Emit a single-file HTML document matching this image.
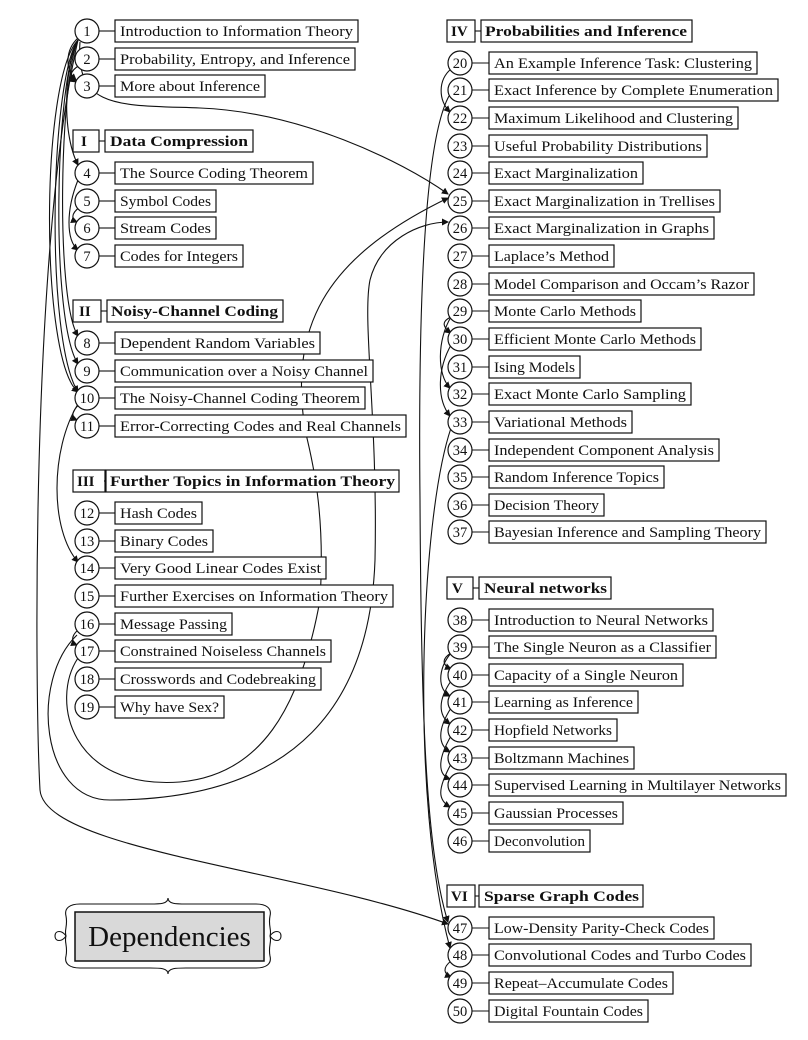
<!DOCTYPE html>
<html><head><meta charset="utf-8"><style>
body{margin:0;background:#fff;}
svg{display:block;}
text{font-family:"Liberation Serif",serif;font-size:15px;fill:#111;}
.b{font-weight:bold;}
.n{font-size:14.5px;text-anchor:middle;}
rect{fill:#fff;stroke:#111;stroke-width:1.2;}
circle{fill:#fff;stroke:#111;stroke-width:1.2;}
.c{fill:none;stroke:#111;stroke-width:1.1;}
line{stroke:#111;stroke-width:1.1;}
</style></head><body>
<svg width="808" height="1040" viewBox="0 0 808 1040" xmlns="http://www.w3.org/2000/svg">
<defs><marker id="a" markerWidth="7" markerHeight="7" refX="6" refY="3.5" orient="auto" markerUnits="userSpaceOnUse"><path d="M0,0 L7,3.5 L0,7 z" fill="#111"/></marker></defs>
<g class="c" marker-end="url(#a)">
<path d="M78,38 C65,50 65,70 76,80"/>
<path d="M80,65 C68,72 70,78 76,82"/>
<path d="M78,40 C66,60 60,130 78,165"/>
<path d="M78,40 C60,80 55,300 78,336"/>
<path d="M78,40 C55,80 50,320 78,364"/>
<path d="M78,40 C50,80 45,340 78,392"/>
<path d="M78,40 C40,80 40,360 78,392"/>
<path d="M80,42 C75,110 120,105 200,108 C300,112 400,160 448,194"/>
<path d="M78,180 C66,210 66,240 78,250"/>
<path d="M80,207 C70,214 72,220 77,222"/>
<path d="M80,404 C70,412 72,418 77,420"/>
<path d="M78,404 C50,450 50,530 78,562"/>
<path d="M78,630 C70,637 72,643 77,645"/>
<path d="M78,40 C30,250 35,700 40,790 C45,850 300,870 448,924"/>
<path d="M78,658 C50,700 70,790 180,782 C260,775 300,710 320,600 C325,520 315,470 305,430 C290,330 320,260 448,198"/>
<path d="M77,635 C30,680 40,800 110,800 C300,800 370,700 375,560 C378,420 362,320 370,280 C380,240 420,222 448,222"/>
<path d="M451,69 C438,80 438,100 450,112"/>
<path d="M451,317 C440,322 444,328 451,333"/>
<path d="M451,317 C437,340 437,375 450,388"/>
<path d="M451,345 C437,370 437,400 450,416"/>
<path d="M451,428 C420,520 410,800 450,948"/>
<path d="M449,96 C425,140 418,300 420,500 C421,700 425,850 448,922"/>
<path d="M451,653 C440,660 444,666 451,669"/>
<path d="M451,653 C437,670 438,690 450,696"/>
<path d="M451,681 C438,700 438,715 450,724"/>
<path d="M451,708 C437,730 438,745 450,752"/>
<path d="M451,736 C437,760 438,775 450,779"/>
<path d="M451,764 C437,790 438,800 450,807"/>
<path d="M451,961 C442,968 444,974 451,977"/>
</g>
<g>
<circle cx="87" cy="31" r="12"/><line x1="99" y1="31" x2="115" y2="31"/><rect x="115" y="20" width="243" height="22"/><text x="120" y="36" textLength="233" lengthAdjust="spacingAndGlyphs">Introduction to Information Theory</text><text class="n" x="87" y="36">1</text>
<circle cx="87" cy="59" r="12"/><line x1="99" y1="59" x2="115" y2="59"/><rect x="115" y="48" width="240" height="22"/><text x="120" y="64" textLength="230" lengthAdjust="spacingAndGlyphs">Probability, Entropy, and Inference</text><text class="n" x="87" y="64">2</text>
<circle cx="87" cy="86" r="12"/><line x1="99" y1="86" x2="115" y2="86"/><rect x="115" y="75" width="150" height="22"/><text x="120" y="91" textLength="140" lengthAdjust="spacingAndGlyphs">More about Inference</text><text class="n" x="87" y="91">3</text>
<rect x="73" y="130" width="26" height="22"/><text class="b" x="81" y="146">I</text><line x1="99" y1="141" x2="105" y2="141"/><rect x="105" y="130" width="148" height="22"/><text class="b" x="110" y="146" textLength="138" lengthAdjust="spacingAndGlyphs">Data Compression</text>
<circle cx="87" cy="173" r="12"/><line x1="99" y1="173" x2="115" y2="173"/><rect x="115" y="162" width="198" height="22"/><text x="120" y="178" textLength="188" lengthAdjust="spacingAndGlyphs">The Source Coding Theorem</text><text class="n" x="87" y="178">4</text>
<circle cx="87" cy="201" r="12"/><line x1="99" y1="201" x2="115" y2="201"/><rect x="115" y="190" width="101" height="22"/><text x="120" y="206" textLength="91" lengthAdjust="spacingAndGlyphs">Symbol Codes</text><text class="n" x="87" y="206">5</text>
<circle cx="87" cy="228" r="12"/><line x1="99" y1="228" x2="115" y2="228"/><rect x="115" y="217" width="101" height="22"/><text x="120" y="233" textLength="91" lengthAdjust="spacingAndGlyphs">Stream Codes</text><text class="n" x="87" y="233">6</text>
<circle cx="87" cy="256" r="12"/><line x1="99" y1="256" x2="115" y2="256"/><rect x="115" y="245" width="128" height="22"/><text x="120" y="261" textLength="118" lengthAdjust="spacingAndGlyphs">Codes for Integers</text><text class="n" x="87" y="261">7</text>
<rect x="73" y="300" width="28" height="22"/><text class="b" x="79" y="316">II</text><line x1="101" y1="311" x2="107" y2="311"/><rect x="107" y="300" width="176" height="22"/><text class="b" x="111" y="316" textLength="167" lengthAdjust="spacingAndGlyphs">Noisy-Channel Coding</text>
<circle cx="87" cy="343" r="12"/><line x1="99" y1="343" x2="115" y2="343"/><rect x="115" y="332" width="205" height="22"/><text x="120" y="348" textLength="195" lengthAdjust="spacingAndGlyphs">Dependent Random Variables</text><text class="n" x="87" y="348">8</text>
<circle cx="87" cy="371" r="12"/><line x1="99" y1="371" x2="115" y2="371"/><rect x="115" y="360" width="258" height="22"/><text x="120" y="376" textLength="248" lengthAdjust="spacingAndGlyphs">Communication over a Noisy Channel</text><text class="n" x="87" y="376">9</text>
<circle cx="87" cy="398" r="12"/><line x1="99" y1="398" x2="115" y2="398"/><rect x="115" y="387" width="250" height="22"/><text x="120" y="403" textLength="240" lengthAdjust="spacingAndGlyphs">The Noisy-Channel Coding Theorem</text><text class="n" x="87" y="403">10</text>
<circle cx="87" cy="426" r="12"/><line x1="99" y1="426" x2="115" y2="426"/><rect x="115" y="415" width="291" height="22"/><text x="120" y="431" textLength="281" lengthAdjust="spacingAndGlyphs">Error-Correcting Codes and Real Channels</text><text class="n" x="87" y="431">11</text>
<rect x="73" y="470" width="32" height="22"/><text class="b" x="77" y="486">III</text><line x1="104" y1="481" x2="106" y2="481"/><rect x="106" y="470" width="293" height="22"/><text class="b" x="110" y="486" textLength="285" lengthAdjust="spacingAndGlyphs">Further Topics in Information Theory</text>
<circle cx="87" cy="513" r="12"/><line x1="99" y1="513" x2="115" y2="513"/><rect x="115" y="502" width="87" height="22"/><text x="120" y="518" textLength="77" lengthAdjust="spacingAndGlyphs">Hash Codes</text><text class="n" x="87" y="518">12</text>
<circle cx="87" cy="541" r="12"/><line x1="99" y1="541" x2="115" y2="541"/><rect x="115" y="530" width="98" height="22"/><text x="120" y="546" textLength="88" lengthAdjust="spacingAndGlyphs">Binary Codes</text><text class="n" x="87" y="546">13</text>
<circle cx="87" cy="568" r="12"/><line x1="99" y1="568" x2="115" y2="568"/><rect x="115" y="557" width="211" height="22"/><text x="120" y="573" textLength="201" lengthAdjust="spacingAndGlyphs">Very Good Linear Codes Exist</text><text class="n" x="87" y="573">14</text>
<circle cx="87" cy="596" r="12"/><line x1="99" y1="596" x2="115" y2="596"/><rect x="115" y="585" width="278" height="22"/><text x="120" y="601" textLength="268" lengthAdjust="spacingAndGlyphs">Further Exercises on Information Theory</text><text class="n" x="87" y="601">15</text>
<circle cx="87" cy="624" r="12"/><line x1="99" y1="624" x2="115" y2="624"/><rect x="115" y="613" width="117" height="22"/><text x="120" y="629" textLength="107" lengthAdjust="spacingAndGlyphs">Message Passing</text><text class="n" x="87" y="629">16</text>
<circle cx="87" cy="651" r="12"/><line x1="99" y1="651" x2="115" y2="651"/><rect x="115" y="640" width="216" height="22"/><text x="120" y="656" textLength="206" lengthAdjust="spacingAndGlyphs">Constrained Noiseless Channels</text><text class="n" x="87" y="656">17</text>
<circle cx="87" cy="679" r="12"/><line x1="99" y1="679" x2="115" y2="679"/><rect x="115" y="668" width="206" height="22"/><text x="120" y="684" textLength="196" lengthAdjust="spacingAndGlyphs">Crosswords and Codebreaking</text><text class="n" x="87" y="684">18</text>
<circle cx="87" cy="707" r="12"/><line x1="99" y1="707" x2="115" y2="707"/><rect x="115" y="696" width="109" height="22"/><text x="120" y="712" textLength="99" lengthAdjust="spacingAndGlyphs">Why have Sex?</text><text class="n" x="87" y="712">19</text>
</g>
<g>
<rect x="447" y="20" width="28" height="22"/><text class="b" x="451" y="36">IV</text><line x1="475" y1="31" x2="481" y2="31"/><rect x="481" y="20" width="211" height="22"/><text class="b" x="485" y="36" textLength="202" lengthAdjust="spacingAndGlyphs">Probabilities and Inference</text>
<circle cx="460" cy="63" r="12"/><line x1="472" y1="63" x2="489" y2="63"/><rect x="489" y="52" width="268" height="22"/><text x="494" y="68" textLength="258" lengthAdjust="spacingAndGlyphs">An Example Inference Task: Clustering</text><text class="n" x="460" y="68">20</text>
<circle cx="460" cy="90" r="12"/><line x1="472" y1="90" x2="489" y2="90"/><rect x="489" y="79" width="289" height="22"/><text x="494" y="95" textLength="279" lengthAdjust="spacingAndGlyphs">Exact Inference by Complete Enumeration</text><text class="n" x="460" y="95">21</text>
<circle cx="460" cy="118" r="12"/><line x1="472" y1="118" x2="489" y2="118"/><rect x="489" y="107" width="249" height="22"/><text x="494" y="123" textLength="239" lengthAdjust="spacingAndGlyphs">Maximum Likelihood and Clustering</text><text class="n" x="460" y="123">22</text>
<circle cx="460" cy="146" r="12"/><line x1="472" y1="146" x2="489" y2="146"/><rect x="489" y="135" width="218" height="22"/><text x="494" y="151" textLength="208" lengthAdjust="spacingAndGlyphs">Useful Probability Distributions</text><text class="n" x="460" y="151">23</text>
<circle cx="460" cy="173" r="12"/><line x1="472" y1="173" x2="489" y2="173"/><rect x="489" y="162" width="154" height="22"/><text x="494" y="178" textLength="144" lengthAdjust="spacingAndGlyphs">Exact Marginalization</text><text class="n" x="460" y="178">24</text>
<circle cx="460" cy="201" r="12"/><line x1="472" y1="201" x2="489" y2="201"/><rect x="489" y="190" width="231" height="22"/><text x="494" y="206" textLength="221" lengthAdjust="spacingAndGlyphs">Exact Marginalization in Trellises</text><text class="n" x="460" y="206">25</text>
<circle cx="460" cy="228" r="12"/><line x1="472" y1="228" x2="489" y2="228"/><rect x="489" y="217" width="225" height="22"/><text x="494" y="233" textLength="215" lengthAdjust="spacingAndGlyphs">Exact Marginalization in Graphs</text><text class="n" x="460" y="233">26</text>
<circle cx="460" cy="256" r="12"/><line x1="472" y1="256" x2="489" y2="256"/><rect x="489" y="245" width="125" height="22"/><text x="494" y="261" textLength="115" lengthAdjust="spacingAndGlyphs">Laplace’s Method</text><text class="n" x="460" y="261">27</text>
<circle cx="460" cy="284" r="12"/><line x1="472" y1="284" x2="489" y2="284"/><rect x="489" y="273" width="265" height="22"/><text x="494" y="289" textLength="255" lengthAdjust="spacingAndGlyphs">Model Comparison and Occam’s Razor</text><text class="n" x="460" y="289">28</text>
<circle cx="460" cy="311" r="12"/><line x1="472" y1="311" x2="489" y2="311"/><rect x="489" y="300" width="152" height="22"/><text x="494" y="316" textLength="142" lengthAdjust="spacingAndGlyphs">Monte Carlo Methods</text><text class="n" x="460" y="316">29</text>
<circle cx="460" cy="339" r="12"/><line x1="472" y1="339" x2="489" y2="339"/><rect x="489" y="328" width="212" height="22"/><text x="494" y="344" textLength="202" lengthAdjust="spacingAndGlyphs">Efficient Monte Carlo Methods</text><text class="n" x="460" y="344">30</text>
<circle cx="460" cy="367" r="12"/><line x1="472" y1="367" x2="489" y2="367"/><rect x="489" y="356" width="91" height="22"/><text x="494" y="372" textLength="81" lengthAdjust="spacingAndGlyphs">Ising Models</text><text class="n" x="460" y="372">31</text>
<circle cx="460" cy="394" r="12"/><line x1="472" y1="394" x2="489" y2="394"/><rect x="489" y="383" width="202" height="22"/><text x="494" y="399" textLength="192" lengthAdjust="spacingAndGlyphs">Exact Monte Carlo Sampling</text><text class="n" x="460" y="399">32</text>
<circle cx="460" cy="422" r="12"/><line x1="472" y1="422" x2="489" y2="422"/><rect x="489" y="411" width="143" height="22"/><text x="494" y="427" textLength="133" lengthAdjust="spacingAndGlyphs">Variational Methods</text><text class="n" x="460" y="427">33</text>
<circle cx="460" cy="450" r="12"/><line x1="472" y1="450" x2="489" y2="450"/><rect x="489" y="439" width="230" height="22"/><text x="494" y="455" textLength="220" lengthAdjust="spacingAndGlyphs">Independent Component Analysis</text><text class="n" x="460" y="455">34</text>
<circle cx="460" cy="477" r="12"/><line x1="472" y1="477" x2="489" y2="477"/><rect x="489" y="466" width="175" height="22"/><text x="494" y="482" textLength="165" lengthAdjust="spacingAndGlyphs">Random Inference Topics</text><text class="n" x="460" y="482">35</text>
<circle cx="460" cy="505" r="12"/><line x1="472" y1="505" x2="489" y2="505"/><rect x="489" y="494" width="115" height="22"/><text x="494" y="510" textLength="105" lengthAdjust="spacingAndGlyphs">Decision Theory</text><text class="n" x="460" y="510">36</text>
<circle cx="460" cy="532" r="12"/><line x1="472" y1="532" x2="489" y2="532"/><rect x="489" y="521" width="277" height="22"/><text x="494" y="537" textLength="267" lengthAdjust="spacingAndGlyphs">Bayesian Inference and Sampling Theory</text><text class="n" x="460" y="537">37</text>
<rect x="447" y="577" width="26" height="22"/><text class="b" x="452" y="593">V</text><line x1="473" y1="588" x2="479" y2="588"/><rect x="479" y="577" width="132" height="22"/><text class="b" x="484" y="593" textLength="123" lengthAdjust="spacingAndGlyphs">Neural networks</text>
<circle cx="460" cy="620" r="12"/><line x1="472" y1="620" x2="489" y2="620"/><rect x="489" y="609" width="224" height="22"/><text x="494" y="625" textLength="214" lengthAdjust="spacingAndGlyphs">Introduction to Neural Networks</text><text class="n" x="460" y="625">38</text>
<circle cx="460" cy="647" r="12"/><line x1="472" y1="647" x2="489" y2="647"/><rect x="489" y="636" width="227" height="22"/><text x="494" y="652" textLength="217" lengthAdjust="spacingAndGlyphs">The Single Neuron as a Classifier</text><text class="n" x="460" y="652">39</text>
<circle cx="460" cy="675" r="12"/><line x1="472" y1="675" x2="489" y2="675"/><rect x="489" y="664" width="194" height="22"/><text x="494" y="680" textLength="184" lengthAdjust="spacingAndGlyphs">Capacity of a Single Neuron</text><text class="n" x="460" y="680">40</text>
<circle cx="460" cy="702" r="12"/><line x1="472" y1="702" x2="489" y2="702"/><rect x="489" y="691" width="149" height="22"/><text x="494" y="707" textLength="139" lengthAdjust="spacingAndGlyphs">Learning as Inference</text><text class="n" x="460" y="707">41</text>
<circle cx="460" cy="730" r="12"/><line x1="472" y1="730" x2="489" y2="730"/><rect x="489" y="719" width="128" height="22"/><text x="494" y="735" textLength="118" lengthAdjust="spacingAndGlyphs">Hopfield Networks</text><text class="n" x="460" y="735">42</text>
<circle cx="460" cy="758" r="12"/><line x1="472" y1="758" x2="489" y2="758"/><rect x="489" y="747" width="145" height="22"/><text x="494" y="763" textLength="135" lengthAdjust="spacingAndGlyphs">Boltzmann Machines</text><text class="n" x="460" y="763">43</text>
<circle cx="460" cy="785" r="12"/><line x1="472" y1="785" x2="489" y2="785"/><rect x="489" y="774" width="297" height="22"/><text x="494" y="790" textLength="287" lengthAdjust="spacingAndGlyphs">Supervised Learning in Multilayer Networks</text><text class="n" x="460" y="790">44</text>
<circle cx="460" cy="813" r="12"/><line x1="472" y1="813" x2="489" y2="813"/><rect x="489" y="802" width="134" height="22"/><text x="494" y="818" textLength="124" lengthAdjust="spacingAndGlyphs">Gaussian Processes</text><text class="n" x="460" y="818">45</text>
<circle cx="460" cy="841" r="12"/><line x1="472" y1="841" x2="489" y2="841"/><rect x="489" y="830" width="101" height="22"/><text x="494" y="846" textLength="91" lengthAdjust="spacingAndGlyphs">Deconvolution</text><text class="n" x="460" y="846">46</text>
<rect x="447" y="885" width="28" height="22"/><text class="b" x="451" y="901">VI</text><line x1="475" y1="896" x2="479" y2="896"/><rect x="479" y="885" width="164" height="22"/><text class="b" x="484" y="901" textLength="155" lengthAdjust="spacingAndGlyphs">Sparse Graph Codes</text>
<circle cx="460" cy="928" r="12"/><line x1="472" y1="928" x2="489" y2="928"/><rect x="489" y="917" width="225" height="22"/><text x="494" y="933" textLength="215" lengthAdjust="spacingAndGlyphs">Low-Density Parity-Check Codes</text><text class="n" x="460" y="933">47</text>
<circle cx="460" cy="955" r="12"/><line x1="472" y1="955" x2="489" y2="955"/><rect x="489" y="944" width="262" height="22"/><text x="494" y="960" textLength="252" lengthAdjust="spacingAndGlyphs">Convolutional Codes and Turbo Codes</text><text class="n" x="460" y="960">48</text>
<circle cx="460" cy="983" r="12"/><line x1="472" y1="983" x2="489" y2="983"/><rect x="489" y="972" width="184" height="22"/><text x="494" y="988" textLength="174" lengthAdjust="spacingAndGlyphs">Repeat–Accumulate Codes</text><text class="n" x="460" y="988">49</text>
<circle cx="460" cy="1011" r="12"/><line x1="472" y1="1011" x2="489" y2="1011"/><rect x="489" y="1000" width="159" height="22"/><text x="494" y="1016" textLength="149" lengthAdjust="spacingAndGlyphs">Digital Fountain Codes</text><text class="n" x="460" y="1016">50</text>
</g>
<path class="c" d="M168,898 C168,904 160,904 150,904 L80,904 C70,904 64,908 66,916 C68,926 64,930 66,936 C64,942 68,946 66,956 C64,964 70,968 80,968 L150,968 C160,968 168,968 168,974 C168,968 176,968 186,968 L256,968 C266,968 272,964 270,956 C268,946 272,942 270,936 C272,930 268,926 270,916 C272,908 266,904 256,904 L186,904 C176,904 168,904 168,898 Z"/>
<path class="c" d="M66,936 C62,930 55,930 55,936 C55,942 62,942 66,936 M270,936 C274,930 281,930 281,936 C281,942 274,942 270,936"/>
<rect x="75" y="912" width="189" height="49" style="fill:#d9d9d9;stroke-width:1.5"/>
<text x="169.5" y="946" style="font-size:29px;text-anchor:middle;">Dependencies</text>
</svg>
</body></html>
